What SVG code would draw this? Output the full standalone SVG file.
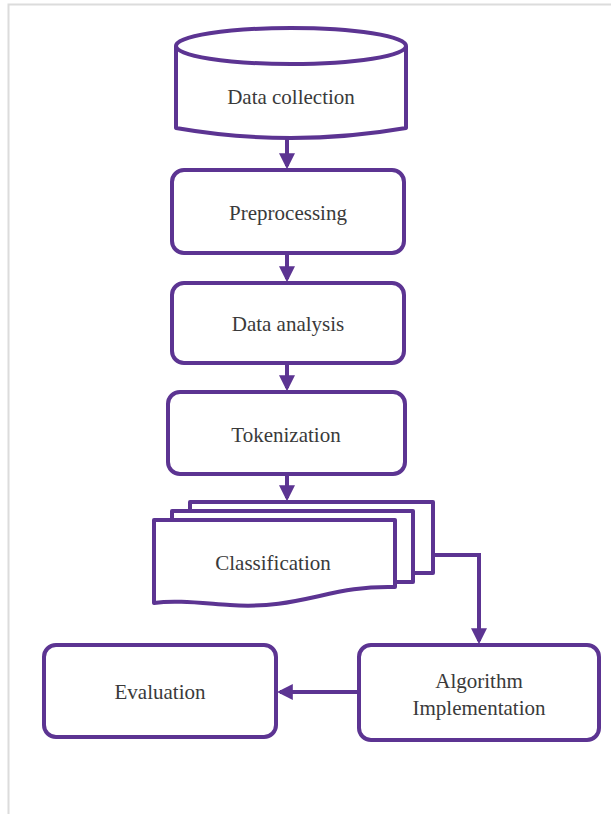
<svg xmlns="http://www.w3.org/2000/svg" width="611" height="814" viewBox="0 0 611 814">
<style>
.n{fill:#fff;stroke:#5c3492;stroke-width:4;stroke-linejoin:round}
.t{font-size:21px;fill:#3a3a3a;text-anchor:middle}
.c{fill:none;stroke:#5c3492;stroke-width:4}
</style>
<defs>
<marker id="ah" markerWidth="4" markerHeight="4" refX="3.2" refY="2" orient="auto" markerUnits="strokeWidth">
<path d="M0,0 L4,2 L0,4 z" fill="#5c3492"/>
</marker>
</defs>
<rect x="0" y="0" width="611" height="814" fill="#fff"/>
<path d="M8.5,814 V4.5 H611" fill="none" stroke="#dcdcdc" stroke-width="2"/>
<g font-family="Liberation Serif, Times New Roman, DejaVu Serif, serif">
<g id="n-data-collection">
<path class="n" d="M176,46 V128 Q291,148 406,128 V46"/>
<ellipse class="n" cx="291" cy="46" rx="115" ry="18"/>
<text class="t" x="291" y="104">Data collection</text>
</g>
<g id="n-preprocessing">
<rect class="n" x="172" y="170" width="232" height="83" rx="12"/>
<text class="t" x="288" y="220">Preprocessing</text>
</g>
<g id="n-data-analysis">
<rect class="n" x="172" y="283" width="232" height="80" rx="12"/>
<text class="t" x="288" y="331">Data analysis</text>
</g>
<g id="n-tokenization">
<rect class="n" x="168" y="392" width="237" height="82" rx="12"/>
<text class="t" x="286" y="442">Tokenization</text>
</g>
<g id="n-classification">
<path class="n" d="M190,502 H433 V573 H190 Z"/>
<path class="n" d="M172,511 H413 V582 H172 Z"/>
<path class="n" d="M154,520 H395 V587 C330,585 300,610 230,605 C200,603 175,600 154,603 Z"/>
<text class="t" x="273" y="570">Classification</text>
</g>
<g id="n-algorithm">
<rect class="n" x="359" y="645" width="240" height="95" rx="12"/>
<text class="t" x="479" y="688">Algorithm</text>
<text class="t" x="479" y="715">Implementation</text>
</g>
<g id="n-evaluation">
<rect class="n" x="44" y="645" width="232" height="92" rx="12"/>
<text class="t" x="160" y="699">Evaluation</text>
</g>
</g>
<g id="connectors">
<path class="c" d="M287,138 V166" marker-end="url(#ah)"/>
<path class="c" d="M287,253 V279" marker-end="url(#ah)"/>
<path class="c" d="M287,363 V388" marker-end="url(#ah)"/>
<path class="c" d="M287,474 V498" marker-end="url(#ah)"/>
<path class="c" d="M433,555 H479 V641" marker-end="url(#ah)"/>
<path class="c" d="M359,692 H280" marker-end="url(#ah)"/>
</g>
</svg>
